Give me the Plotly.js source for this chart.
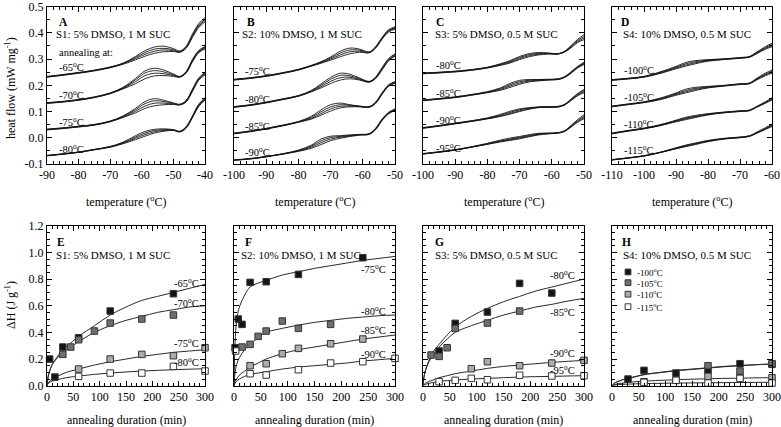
<!DOCTYPE html>
<html><head><meta charset="utf-8">
<script src="https://cdn.plot.ly/plotly-3.0.1.min.js"></script>
<style>html,body{margin:0;padding:0;background:#fff}#chart{width:781px;height:427px}</style>
</head><body><div id="chart"></div>
<script>
// ---------- DSC heat-flow curves (top row), temperature grids ----------
const xA = [-90,-85,-80,-75,-70,-66,-62,-59,-56,-53,-50,-48,-46,-44,-42,-40];
const xB = [-100,-95,-90,-85,-80,-76,-73,-70,-67,-64,-61,-58,-56,-54,-52,-50];
const xC = [-100,-95,-90,-85,-80,-76,-73,-70,-67,-64,-61,-58,-56,-54,-52,-50];
const xD = [-110,-105,-100,-95,-90,-87,-84,-80,-75,-70,-67,-65,-62,-60];

// Panel A (S1), annealing -65, -70, -75, -80 °C
const A_65 = [
 [0.234,0.241,0.249,0.258,0.270,0.284,0.310,0.332,0.346,0.349,0.340,0.331,0.348,0.395,0.435,0.458],
 [0.233,0.240,0.248,0.257,0.269,0.283,0.306,0.325,0.338,0.341,0.336,0.328,0.345,0.390,0.430,0.452],
 [0.232,0.239,0.247,0.256,0.268,0.282,0.302,0.318,0.330,0.335,0.332,0.327,0.343,0.386,0.425,0.447],
 [0.231,0.238,0.246,0.255,0.267,0.280,0.297,0.311,0.322,0.328,0.329,0.326,0.341,0.382,0.420,0.442]];
const A_70 = [
 [0.134,0.139,0.146,0.156,0.171,0.192,0.226,0.255,0.265,0.258,0.243,0.234,0.252,0.298,0.333,0.348],
 [0.133,0.138,0.145,0.155,0.170,0.190,0.221,0.247,0.256,0.251,0.240,0.233,0.250,0.295,0.330,0.345],
 [0.132,0.137,0.144,0.154,0.169,0.188,0.214,0.237,0.246,0.244,0.237,0.232,0.248,0.292,0.327,0.342],
 [0.131,0.136,0.143,0.153,0.168,0.186,0.206,0.225,0.236,0.237,0.234,0.231,0.246,0.289,0.324,0.339]];
const A_75 = [
 [0.033,0.038,0.044,0.051,0.064,0.083,0.112,0.138,0.149,0.143,0.133,0.128,0.142,0.185,0.228,0.250],
 [0.032,0.037,0.043,0.050,0.063,0.081,0.107,0.130,0.141,0.138,0.131,0.127,0.140,0.182,0.225,0.246],
 [0.031,0.036,0.042,0.049,0.062,0.079,0.101,0.121,0.132,0.132,0.129,0.126,0.138,0.179,0.222,0.243],
 [0.030,0.035,0.041,0.048,0.061,0.077,0.095,0.112,0.122,0.126,0.127,0.125,0.136,0.176,0.219,0.240]];
const A_80 = [
 [-0.067,-0.061,-0.054,-0.044,-0.033,-0.017,0.008,0.024,0.032,0.034,0.031,0.025,0.042,0.083,0.128,0.153],
 [-0.068,-0.062,-0.055,-0.045,-0.034,-0.019,0.003,0.018,0.028,0.031,0.030,0.024,0.040,0.080,0.125,0.150],
 [-0.068,-0.062,-0.055,-0.045,-0.035,-0.021,-0.002,0.012,0.023,0.028,0.029,0.023,0.038,0.078,0.122,0.147],
 [-0.069,-0.063,-0.056,-0.046,-0.036,-0.023,-0.007,0.006,0.018,0.025,0.028,0.022,0.036,0.076,0.119,0.144]];

// Panel B (S2), annealing -75, -80, -85, -90 °C
const B_75 = [
 [0.223,0.229,0.237,0.248,0.261,0.276,0.290,0.308,0.330,0.342,0.338,0.327,0.348,0.383,0.412,0.423],
 [0.222,0.228,0.236,0.247,0.260,0.275,0.288,0.304,0.323,0.335,0.334,0.326,0.346,0.380,0.409,0.420],
 [0.221,0.227,0.235,0.246,0.259,0.274,0.286,0.300,0.316,0.328,0.330,0.325,0.344,0.378,0.406,0.417],
 [0.220,0.226,0.234,0.245,0.258,0.273,0.284,0.296,0.309,0.320,0.326,0.324,0.342,0.376,0.403,0.414]];
const B_80 = [
 [0.119,0.126,0.136,0.148,0.161,0.180,0.205,0.230,0.246,0.242,0.228,0.215,0.232,0.268,0.302,0.320],
 [0.118,0.125,0.135,0.147,0.160,0.179,0.200,0.223,0.238,0.236,0.225,0.214,0.230,0.265,0.299,0.317],
 [0.117,0.124,0.134,0.146,0.159,0.177,0.195,0.215,0.229,0.231,0.222,0.213,0.228,0.262,0.296,0.314],
 [0.116,0.123,0.133,0.145,0.158,0.175,0.190,0.207,0.220,0.225,0.220,0.212,0.226,0.259,0.293,0.311]];
const B_85 = [
 [0.018,0.026,0.036,0.048,0.062,0.082,0.106,0.126,0.132,0.126,0.121,0.119,0.137,0.172,0.202,0.214],
 [0.017,0.025,0.035,0.047,0.061,0.078,0.099,0.118,0.126,0.124,0.120,0.118,0.135,0.170,0.200,0.212],
 [0.016,0.024,0.034,0.046,0.060,0.074,0.092,0.110,0.120,0.121,0.119,0.117,0.133,0.168,0.198,0.210],
 [0.015,0.023,0.033,0.045,0.059,0.071,0.086,0.102,0.114,0.118,0.118,0.116,0.131,0.166,0.196,0.208]];
const B_90 = [
 [-0.084,-0.079,-0.071,-0.061,-0.047,-0.028,-0.005,0.006,0.008,0.011,0.013,0.016,0.037,0.072,0.097,0.110],
 [-0.085,-0.080,-0.072,-0.062,-0.049,-0.032,-0.012,0.001,0.005,0.009,0.012,0.015,0.035,0.070,0.095,0.108],
 [-0.085,-0.080,-0.072,-0.062,-0.050,-0.036,-0.019,-0.005,0.002,0.007,0.011,0.014,0.033,0.068,0.093,0.106],
 [-0.086,-0.081,-0.073,-0.063,-0.052,-0.040,-0.026,-0.011,-0.002,0.005,0.010,0.013,0.031,0.066,0.091,0.104]];

// Panel C (S3), annealing -80, -85, -90, -95 °C
const C_80 = [
 [0.247,0.250,0.254,0.260,0.269,0.282,0.294,0.310,0.321,0.325,0.323,0.321,0.330,0.352,0.375,0.393],
 [0.246,0.249,0.253,0.259,0.268,0.280,0.291,0.306,0.317,0.322,0.322,0.320,0.329,0.349,0.371,0.386],
 [0.245,0.248,0.252,0.258,0.267,0.278,0.288,0.302,0.313,0.319,0.321,0.320,0.328,0.346,0.367,0.380],
 [0.244,0.247,0.251,0.257,0.266,0.276,0.285,0.298,0.309,0.316,0.319,0.319,0.327,0.343,0.363,0.374]];
const C_85 = [
 [0.144,0.150,0.156,0.165,0.176,0.190,0.207,0.219,0.222,0.222,0.223,0.225,0.233,0.252,0.272,0.288],
 [0.143,0.149,0.155,0.164,0.174,0.187,0.202,0.214,0.219,0.221,0.222,0.224,0.232,0.250,0.270,0.285],
 [0.142,0.148,0.154,0.163,0.173,0.184,0.197,0.209,0.216,0.219,0.221,0.223,0.231,0.248,0.268,0.282],
 [0.141,0.147,0.153,0.162,0.172,0.181,0.192,0.204,0.213,0.217,0.220,0.222,0.230,0.246,0.266,0.279]];
const C_90 = [
 [0.039,0.047,0.056,0.065,0.076,0.089,0.101,0.110,0.115,0.118,0.119,0.120,0.128,0.148,0.169,0.184],
 [0.038,0.046,0.055,0.064,0.074,0.086,0.097,0.107,0.113,0.117,0.118,0.119,0.127,0.146,0.166,0.180],
 [0.037,0.045,0.054,0.063,0.073,0.083,0.093,0.103,0.111,0.116,0.117,0.118,0.126,0.144,0.163,0.176],
 [0.036,0.044,0.053,0.062,0.072,0.081,0.090,0.100,0.109,0.115,0.116,0.117,0.125,0.142,0.160,0.172]];
const C_95 = [
 [-0.060,-0.053,-0.045,-0.034,-0.021,-0.009,-0.001,0.005,0.012,0.017,0.018,0.020,0.027,0.048,0.069,0.088],
 [-0.061,-0.054,-0.046,-0.035,-0.023,-0.012,-0.005,0.002,0.009,0.015,0.017,0.019,0.026,0.045,0.065,0.082],
 [-0.062,-0.055,-0.047,-0.036,-0.024,-0.014,-0.008,-0.001,0.006,0.013,0.016,0.018,0.025,0.043,0.062,0.077],
 [-0.062,-0.055,-0.047,-0.036,-0.025,-0.016,-0.010,-0.004,0.004,0.011,0.015,0.018,0.024,0.041,0.059,0.073]];

// Panel D (S4), annealing -100, -105, -110, -115 °C
const D_100 = [
 [0.222,0.227,0.234,0.251,0.272,0.287,0.294,0.298,0.301,0.306,0.310,0.325,0.348,0.360],
 [0.221,0.226,0.233,0.249,0.269,0.282,0.290,0.296,0.300,0.305,0.309,0.323,0.344,0.355],
 [0.220,0.225,0.232,0.247,0.266,0.277,0.286,0.294,0.299,0.304,0.308,0.321,0.341,0.351],
 [0.219,0.224,0.231,0.245,0.263,0.273,0.282,0.292,0.298,0.303,0.307,0.319,0.338,0.347]];
const D_105 = [
 [0.121,0.129,0.137,0.151,0.171,0.185,0.192,0.196,0.200,0.206,0.209,0.225,0.247,0.258],
 [0.120,0.128,0.136,0.149,0.168,0.180,0.188,0.194,0.199,0.205,0.208,0.223,0.243,0.254],
 [0.119,0.127,0.135,0.147,0.165,0.175,0.184,0.192,0.198,0.204,0.207,0.221,0.240,0.250],
 [0.118,0.126,0.134,0.145,0.162,0.171,0.180,0.190,0.197,0.203,0.206,0.219,0.237,0.246]];
const D_110 = [
 [0.018,0.028,0.037,0.050,0.067,0.078,0.085,0.092,0.098,0.103,0.106,0.118,0.138,0.153],
 [0.017,0.027,0.036,0.048,0.065,0.075,0.082,0.090,0.097,0.102,0.105,0.117,0.136,0.150],
 [0.016,0.026,0.035,0.047,0.063,0.072,0.080,0.089,0.096,0.101,0.104,0.116,0.134,0.147],
 [0.015,0.025,0.034,0.046,0.061,0.069,0.077,0.087,0.095,0.100,0.103,0.115,0.132,0.144]];
const D_115 = [
 [-0.083,-0.076,-0.068,-0.055,-0.038,-0.028,-0.020,-0.010,-0.002,0.003,0.008,0.020,0.039,0.052],
 [-0.084,-0.077,-0.069,-0.056,-0.040,-0.030,-0.022,-0.012,-0.003,0.002,0.007,0.018,0.036,0.049],
 [-0.084,-0.077,-0.069,-0.056,-0.041,-0.032,-0.024,-0.013,-0.004,0.001,0.006,0.017,0.034,0.046],
 [-0.085,-0.078,-0.070,-0.057,-0.042,-0.034,-0.026,-0.015,-0.005,0.000,0.005,0.016,0.032,0.043]];

// ---------- Enthalpy vs annealing duration (bottom row) ----------
const tFit = [0,2,5,10,20,30,45,60,90,120,150,180,210,240,270,300];

// E (S1)
const E_t65 = [5,15,30,60,120,240];            const E_v65 = [0.20,0.065,0.29,0.36,0.56,0.69];
const E_t70 = [30,45,60,90,120,180,240];       const E_v70 = [0.235,0.29,0.345,0.41,0.47,0.50,0.53];
const E_t75 = [60,120,180,240,300];            const E_v75 = [0.125,0.20,0.235,0.225,0.285];
const E_t80 = [60,120,180,240,300];            const E_v80 = [0.07,0.095,0.095,0.145,0.11];
const E_f65 = [0,0.06,0.11,0.16,0.22,0.27,0.32,0.37,0.45,0.53,0.59,0.64,0.67,0.70,0.73,0.76];
const E_f70 = [0,0.07,0.11,0.16,0.21,0.25,0.29,0.33,0.40,0.45,0.49,0.52,0.55,0.57,0.59,0.60];
const E_f75 = [0,0.02,0.035,0.05,0.07,0.09,0.11,0.125,0.155,0.18,0.20,0.22,0.235,0.25,0.26,0.27];
const E_f80 = [0,0.015,0.025,0.035,0.045,0.055,0.065,0.072,0.085,0.095,0.103,0.11,0.115,0.12,0.124,0.127];

// F (S2)
const F_t75 = [2,8,15,30,60,120,240];          const F_v75 = [0.285,0.50,0.46,0.775,0.78,0.835,0.96];
const F_t80 = [15,30,45,60,90,120,180];        const F_v80 = [0.29,0.31,0.37,0.41,0.485,0.43,0.46];
const F_t85 = [30,60,90,120,180,240];          const F_v85 = [0.15,0.165,0.24,0.28,0.315,0.35];
const F_t90 = [3,30,60,120,180,240,300];       const F_v90 = [0.26,0.09,0.08,0.12,0.17,0.18,0.205];
const F_f75 = [0,0.32,0.49,0.59,0.68,0.74,0.77,0.79,0.83,0.855,0.88,0.90,0.92,0.94,0.955,0.97];
const F_f80 = [0,0.10,0.16,0.21,0.27,0.31,0.36,0.40,0.43,0.455,0.475,0.49,0.505,0.515,0.525,0.53];
const F_f85 = [0,0.03,0.05,0.08,0.11,0.14,0.17,0.20,0.24,0.27,0.29,0.31,0.33,0.35,0.365,0.38];
const F_f90 = [0,0.02,0.035,0.05,0.07,0.085,0.095,0.105,0.125,0.14,0.15,0.16,0.17,0.185,0.195,0.205];

// G (S3)
const G_t80 = [30,60,120,180,240];             const G_v80 = [0.26,0.4675,0.5525,0.7675,0.695];
const G_t85 = [15,30,45,60,120,180];           const G_v85 = [0.23,0.22,0.285,0.43,0.47,0.56];
const G_t90 = [90,120,180,240,300];            const G_v90 = [0.1275,0.18,0.15,0.17,0.19];
const G_t95 = [30,60,90,120,180,240,300];      const G_v95 = [0.03,0.04,0.055,0.045,0.078,0.073,0.075];
const G_f80 = [0,0.07,0.12,0.18,0.26,0.31,0.38,0.44,0.52,0.58,0.63,0.67,0.71,0.74,0.77,0.80];
const G_f85 = [0,0.07,0.12,0.17,0.24,0.29,0.35,0.40,0.45,0.49,0.53,0.56,0.59,0.61,0.635,0.655];
const G_f90 = [0,0.01,0.02,0.03,0.045,0.06,0.075,0.09,0.11,0.13,0.145,0.155,0.165,0.175,0.183,0.19];
const G_f95 = [0,0.005,0.01,0.017,0.025,0.032,0.038,0.043,0.05,0.055,0.06,0.065,0.068,0.07,0.073,0.075];

// H (S4)
const H_t100 = [30,60,120,180,240,300];        const H_v100 = [0.05,0.115,0.095,0.115,0.165,0.16];
const H_t105 = [180,240,300];                  const H_v105 = [0.15,0.11,0.165];
const H_t110 = [60,120,180,240,300];           const H_v110 = [0.03,0.045,0.07,0.06,0.06];
const H_t115 = [60,120,180,240,300];           const H_v115 = [0.025,0.04,0.02,0.055,0.02];
const H_f100 = [0,0.01,0.02,0.03,0.045,0.055,0.07,0.085,0.10,0.115,0.125,0.135,0.145,0.152,0.158,0.163];
const H_f105 = [0,0.01,0.02,0.03,0.044,0.054,0.068,0.082,0.098,0.112,0.122,0.132,0.142,0.15,0.157,0.162];
const H_f110 = [0,0.004,0.008,0.013,0.02,0.025,0.03,0.034,0.04,0.045,0.049,0.052,0.055,0.057,0.059,0.06];
const H_f115 = [0,0.002,0.004,0.007,0.01,0.012,0.014,0.016,0.018,0.02,0.021,0.022,0.023,0.024,0.025,0.025];

// ---------- Tick labels and text ----------
const xTickA = [-90,-80,-70,-60,-50,-40];   const xTextA = ['-90','-80','-70','-60','-50','-40'];
const xTickB = [-100,-90,-80,-70,-60,-50];  const xTextB = ['-100','-90','-80','-70','-60','-50'];
const xTickD = [-110,-100,-90,-80,-70,-60]; const xTextD = ['-110','-100','-90','-80','-70','-60'];
const yTickTop = [-0.1,0,0.1,0.2,0.3,0.4,0.5]; const yTextTop = ['-0.1','0.0','0.1','0.2','0.3','0.4','0.5'];
const xTickBot = [0,50,100,150,200,250,300];   const xTextBot = ['0','50','100','150','200','250','300'];
const yTickBot = [0,0.2,0.4,0.6,0.8,1.0,1.2];  const yTextBot = ['0.0','0.2','0.4','0.6','0.8','1.0','1.2'];

const panelLetters = ['A','B','C','D','E','F','G','H'];
const sampleNames = ['S1: 5% DMSO, 1 M SUC','S2: 10% DMSO, 1 M SUC','S3: 5% DMSO, 0.5 M SUC','S4: 10% DMSO, 0.5 M SUC'];
const annealTemps = [['-65','-70','-75','-80'],['-75','-80','-85','-90'],['-80','-85','-90','-95'],['-100','-105','-110','-115']];

// ---------- Build ----------
const FONT = '"Liberation Serif", "Times New Roman", serif';
const fills = ['#141414','#6f6f6f','#ababab','#ffffff'];
const colX = [[0.0602,0.2625],[0.2996,0.5058],[0.5416,0.7478],[0.7836,0.9885]];
const topY = [0.6159,0.9845], botY = [0.0967,0.4714];

const topPanels = [
  {x:xA, groups:[A_65,A_70,A_75,A_80]},
  {x:xB, groups:[B_75,B_80,B_85,B_90]},
  {x:xC, groups:[C_80,C_85,C_90,C_95]},
  {x:xD, groups:[D_100,D_105,D_110,D_115]}];
const botPanels = [
  {fits:[E_f65,E_f70,E_f75,E_f80], t:[E_t65,E_t70,E_t75,E_t80], v:[E_v65,E_v70,E_v75,E_v80]},
  {fits:[F_f75,F_f80,F_f85,F_f90], t:[F_t75,F_t80,F_t85,F_t90], v:[F_v75,F_v80,F_v85,F_v90]},
  {fits:[G_f80,G_f85,G_f90,G_f95], t:[G_t80,G_t85,G_t90,G_t95], v:[G_v80,G_v85,G_v90,G_v95]},
  {fits:[H_f100,H_f105,H_f110,H_f115], t:[H_t100,H_t105,H_t110,H_t115], v:[H_v100,H_v105,H_v110,H_v115]}];

const ax = n => (n === 1 ? '' : String(n));
const traces = [];
topPanels.forEach((p, i) => {
  p.groups.forEach((g, gi) => g.forEach((curve, ci) => traces.push({
    type:'scatter', mode:'lines', x:p.x, y:curve, xaxis:'x'+ax(i+1), yaxis:'y'+ax(i+1),
    name:annealTemps[i][gi]+' °C run '+(ci+1), showlegend:false, hoverinfo:'skip',
    line:{color:'#151515', width:0.9, shape:'spline', smoothing:1}
  })));
});
botPanels.forEach((p, i) => {
  const n = i + 5;
  p.fits.forEach((f, k) => traces.push({
    type:'scatter', mode:'lines', x:tFit, y:f, xaxis:'x'+n, yaxis:'y'+n, showlegend:false,
    name:annealTemps[i][k]+' °C fit', line:{color:'#2a2a2a', width:1, shape:'spline', smoothing:1}
  }));
  p.t.forEach((t, k) => traces.push({
    type:'scatter', mode:'markers', x:t, y:p.v[k], xaxis:'x'+n, yaxis:'y'+n, showlegend:false,
    name:annealTemps[i][k]+' °C', cliponaxis:false,
    marker:{symbol:'square', size:6.5, color:fills[k], line:{color:'#333', width:1}}
  }));
});

function axisBase(extra) {
  return Object.assign({
    showline:true, linecolor:'#000', linewidth:1, mirror:'allticks',
    ticks:'inside', ticklen:5, tickwidth:1, tickcolor:'#000',
    showgrid:false, zeroline:false, fixedrange:true, tickmode:'array',
    ticklabeloverflow:'allow',
    tickfont:{family:FONT, size:12, color:'#000'}
  }, extra);
}
const layout = {
  width:781, height:427, margin:{l:0,r:0,t:0,b:0},
  paper_bgcolor:'#fff', plot_bgcolor:'#fff', showlegend:false,
  font:{family:FONT, color:'#000'}, annotations:[], shapes:[]
};
const xTickSets = [[xTickA,xTextA,[-90,-40]],[xTickB,xTextB,[-100,-50]],[xTickB,xTextB,[-100,-50]],[xTickD,xTextD,[-110,-60]]];
for (let i = 0; i < 4; i++) {
  const n = i + 1, m = i + 5;
  layout['xaxis'+ax(n)] = axisBase({domain:colX[i], anchor:'y'+ax(n), range:xTickSets[i][2],
    tickvals:xTickSets[i][0], ticktext:xTickSets[i][1],
    minor:{tickmode:'linear', tick0:0, dtick:2, ticks:'inside', ticklen:3, tickcolor:'#000', showgrid:false}});
  layout['yaxis'+ax(n)] = axisBase({domain:topY, anchor:'x'+ax(n), range:[-0.1,0.5],
    tickvals:yTickTop, ticktext:yTextTop, showticklabels:i===0,
    minor:{tickmode:'linear', tick0:0, dtick:0.05, ticks:'inside', ticklen:3, tickcolor:'#000', showgrid:false}});
  layout['xaxis'+m] = axisBase({domain:colX[i], anchor:'y'+m, range:[0,300],
    tickvals:xTickBot, ticktext:xTextBot,
    minor:{tickmode:'linear', tick0:0, dtick:10, ticks:'inside', ticklen:3, tickcolor:'#000', showgrid:false}});
  layout['yaxis'+m] = axisBase({domain:botY, anchor:'x'+m, range:[0,1.2],
    tickvals:yTickBot, ticktext:yTextBot, showticklabels:i===0,
    minor:{tickmode:'linear', tick0:0, dtick:0.05, ticks:'inside', ticklen:3, tickcolor:'#000', showgrid:false}});
}

const A = layout.annotations;
function note(n, x, y, text, opt) {
  A.push(Object.assign({xref:'x'+ax(n)+' domain', yref:'y'+ax(n)+' domain', x:x, y:y, text:text,
    showarrow:false, xanchor:'left', yanchor:'middle', font:{family:FONT, size:10.5, color:'#000'}}, opt||{}));
}
const f11 = {family:FONT, size:11, color:'#000'};
// panel letters and sample names
const letterX = [0.063,0.07,0.068,0.042,0.048,0.058,0.065,0.052];
const sampleX = [0.045,0.035,0.062,0.056,0.042,0.032,0.062,0.056];
for (let k = 0; k < 8; k++) {
  note(k+1, letterX[k], k < 4 ? 0.905 : 0.9, '<b>'+panelLetters[k]+'</b>', {font:{family:FONT,size:11.5,color:'#000'}});
  note(k+1, sampleX[k], k < 4 ? 0.826 : 0.82, sampleNames[k%4], {font:f11});
}
note(1, 0.063, 0.706, 'annealing at:');
// temperature labels on top panels
const topLabX = [0.063,0.056,0.068,0.063];
const topLabY = [[0.617,0.44,0.27,0.10],[0.592,0.416,0.245,0.082],[0.63,0.453,0.283,0.107],[0.6,0.428,0.258,0.094]];
for (let i = 0; i < 4; i++) for (let k = 0; k < 4; k++)
  note(i+1, topLabX[i], topLabY[i][k], annealTemps[i][k]+'<sup>o</sup>C');
// temperature labels on E, F, G
const botLabX = [0.975,0.955,0.955];
const botLabY = [[0.648,0.519,0.273,0.15],[0.735,0.473,0.354,0.2],[0.698,0.463,0.206,0.10]];
for (let i = 0; i < 3; i++) for (let k = 0; k < 4; k++)
  note(i+5, botLabX[i], botLabY[i][k], annealTemps[i][k]+'<sup>o</sup>C', {xanchor:'right'});
// legend in H
const legY = [0.711,0.644,0.572,0.494];
for (let k = 0; k < 4; k++) {
  layout.shapes.push({type:'rect', xref:'x8 domain', yref:'y8 domain',
    x0:0.082, x1:0.118, y0:legY[k]-0.018, y1:legY[k]+0.018,
    fillcolor:fills[k], line:{color:'#333', width:1}});
  note(8, 0.145, legY[k], annealTemps[3][k]+'<sup>o</sup>C', {font:{family:FONT, size:9, color:'#000'}});
}
// axis titles
for (let i = 0; i < 4; i++) {
  const cx = (colX[i][0]+colX[i][1])/2;
  A.push({xref:'paper', yref:'paper', x:cx, y:1-201/427, text:'temperature (<sup>o</sup>C)', showarrow:false,
    xanchor:'center', yanchor:'middle', font:{family:FONT, size:12, color:'#000'}});
  A.push({xref:'paper', yref:'paper', x:cx, y:1-420/427, text:'annealing duration (min)', showarrow:false,
    xanchor:'center', yanchor:'middle', font:{family:FONT, size:12, color:'#000'}});
}
A.push({xref:'paper', yref:'paper', x:10/781, y:1-88/427, text:'heat flow (mW mg<sup>-1</sup>)', textangle:-90,
  showarrow:false, xanchor:'center', yanchor:'middle', font:{family:FONT, size:12, color:'#000'}});
A.push({xref:'paper', yref:'paper', x:10/781, y:1-305/427, text:'ΔH (J g<sup>-1</sup>)', textangle:-90,
  showarrow:false, xanchor:'center', yanchor:'middle', font:{family:FONT, size:12, color:'#000'}});

Plotly.newPlot('chart', traces, layout, {displayModeBar:false, staticPlot:true});
</script></body></html>
